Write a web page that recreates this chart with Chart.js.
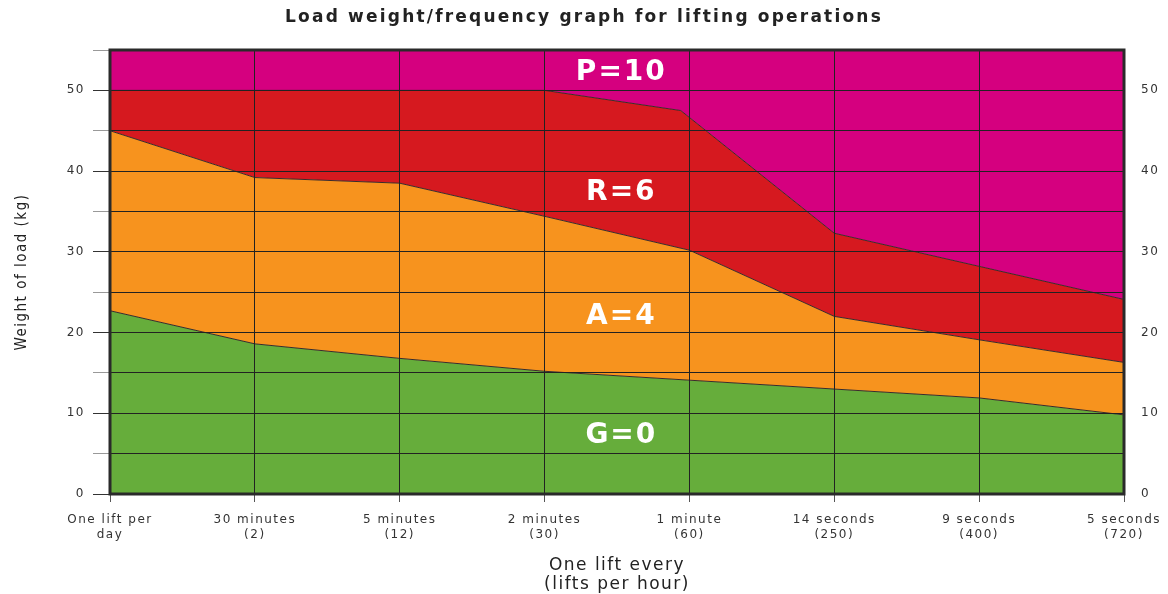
<!DOCTYPE html>
<html>
<head>
<meta charset="utf-8">
<script src="https://cdn.jsdelivr.net/npm/chart.js@4.4.1/dist/chart.umd.min.js"></script>
<style>
  html, body { margin: 0; padding: 0; background: #fff; }
  #wrap { width: 1168px; height: 594px; }
</style>
</head>
<body>
<div id="wrap"><canvas id="c" width="1168" height="594"></canvas></div>
<script>
const chartTitle = 'Load weight/frequency graph for lifting operations';
const categories = [
  ['One lift per', 'day'],
  ['30 minutes', '(2)'],
  ['5 minutes', '(12)'],
  ['2 minutes', '(30)'],
  ['1 minute', '(60)'],
  ['14 seconds', '(250)'],
  ['9 seconds', '(400)'],
  ['5 seconds', '(720)']
];
const xIndex = [0, 1, 2, 3, 4, 5, 6, 7];
const xIndexR = [0, 1, 2, 3, 3.94, 5, 6, 7];
const greenTop = [22.7, 18.6, 16.8, 15.2, 14.1, 13.0, 11.9, 9.8];
const orangeTop = [45.0, 39.2, 38.5, 34.4, 30.2, 22.0, 19.1, 16.3];
const redTop = [50.0, 50.0, 50.0, 50.0, 47.5, 32.3, 28.2, 24.1];
const magentaTop = [55, 55, 55, 55, 55, 55, 55, 55];
const zoneNames = ['G=0', 'A=4', 'R=6', 'P=10'];
const zoneLabelY = [7.2, 22.0, 37.3, 52.2];
const zoneLabelX = 3.53;
const yTicks = [0, 10, 20, 30, 40, 50];

const pts = (xs, ys) => ys.map((v, i) => ({ x: xs[i], y: v }));

const spacing = {
  id: 'spacing',
  beforeUpdate(chart) { chart.ctx.letterSpacing = '1.5px'; },
  beforeLayout(chart) { chart.ctx.letterSpacing = '1.5px'; },
  beforeDraw(chart) { chart.ctx.letterSpacing = '1.5px'; }
};

const overlay = {
  id: 'overlay',
  afterDraw(chart) {
    const { ctx, scales } = chart;
    const a = chart.chartArea;
    ctx.save();
    ctx.strokeStyle = '#2a2a2a';
    ctx.lineWidth = 3;
    ctx.strokeRect(a.left, a.top, a.right - a.left, a.bottom - a.top);
    ctx.letterSpacing = '2px';
    ctx.font = 'bold 28px "DejaVu Sans", sans-serif';
    ctx.fillStyle = '#ffffff';
    ctx.textAlign = 'center';
    ctx.textBaseline = 'middle';
    zoneNames.forEach((n, i) => {
      ctx.fillText(n, scales.x.getPixelForValue(zoneLabelX), scales.y.getPixelForValue(zoneLabelY[i]));
    });
    ctx.letterSpacing = '2.2px';
    ctx.font = 'bold 17px "DejaVu Sans", sans-serif';
    ctx.fillStyle = '#222';
    ctx.fillText(chartTitle, 584, 18);
    ctx.restore();
  }
};

const ds = (label, data, color, fill) => ({
  label, data, fill,
  backgroundColor: color,
  borderColor: '#3a2a2a',
  borderWidth: 1,
  pointRadius: 0,
  tension: 0
});

new Chart(document.getElementById('c'), {
  type: 'line',
  data: {
    datasets: [
      ds('G=0', pts(xIndex, greenTop), '#66ad3b', 'origin'),
      ds('A=4', pts(xIndex, orangeTop), '#f7931e', '-1'),
      ds('R=6', pts(xIndexR, redTop), '#d6191f', '-1'),
      ds('P=10', pts(xIndex, magentaTop), '#d5007f', '-1')
    ]
  },
  options: {
    responsive: false,
    animation: false,
    layout: { padding: { left: 0, right: 0, top: 50, bottom: 0 } },
    plugins: {
      legend: { display: false },
      tooltip: { enabled: false },
      title: { display: false }
    },
    scales: {
      x: {
        type: 'linear',
        min: 0, max: 7,
        afterFit(s) { s.height = 100; s.paddingLeft = 0; s.paddingRight = 0; },
        ticks: {
          stepSize: 1,
          autoSkip: false,
          maxRotation: 0,
          padding: 11,
          color: '#333',
          font: { family: '"DejaVu Sans", sans-serif', size: 12 },
          callback: (v) => categories[v]
        },
        grid: { z: 1, color: '#222', lineWidth: 1, tickLength: 8, tickColor: '#555' },
        border: { display: false },
        title: {
          display: true,
          text: ['One lift every', '(lifts per hour)'],
          color: '#222',
          font: { family: '"DejaVu Sans", sans-serif', size: 17, weight: '500', lineHeight: 1.1 },
          padding: { top: 0, bottom: 0 }
        }
      },
      y: {
        position: 'left',
        min: 0, max: 55,
        afterFit(s) { s.width = 110; },
        ticks: {
          stepSize: 5,
          padding: 8,
          color: '#333',
          font: { family: '"DejaVu Sans", sans-serif', size: 12 },
          callback: (v) => yTicks.includes(v) ? String(v) : ''
        },
        grid: {
          z: 1, color: '#222', lineWidth: 1, tickLength: 17,
          tickColor: (c) => (c.tick && c.tick.value % 10 === 0) ? '#333' : '#999'
        },
        border: { display: false },
        title: {
          display: true,
          text: 'Weight of load (kg)',
          color: '#222',
          font: { family: '"Liberation Sans Narrow", "DejaVu Sans Condensed", Roboto, sans-serif', size: 15 },
          padding: { top: 13, bottom: 14 }
        }
      },
      y2: {
        position: 'right',
        min: 0, max: 55,
        afterFit(s) { s.width = 44; },
        ticks: {
          stepSize: 5,
          padding: 17,
          color: '#333',
          font: { family: '"DejaVu Sans", sans-serif', size: 12 },
          callback: (v) => yTicks.includes(v) ? String(v) : ''
        },
        grid: { drawOnChartArea: false, drawTicks: false },
        border: { display: false }
      }
    }
  },
  plugins: [spacing, overlay]
});
</script>
</body>
</html>
